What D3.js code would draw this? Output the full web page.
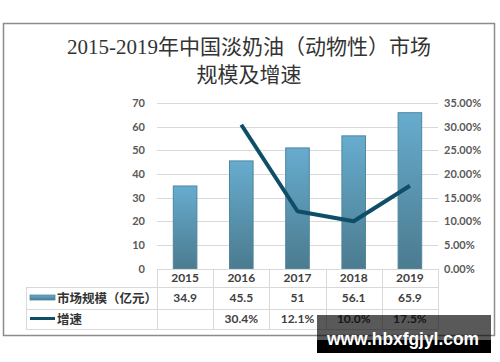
<!DOCTYPE html>
<html><head><meta charset="utf-8">
<script src="https://cdn.jsdelivr.net/npm/d3@7"></script>
<style>body{margin:0;background:#fff;} svg{display:block;}</style>
</head><body>
<svg id="c" width="500" height="362"></svg>
<script>
const years = ["2015","2016","2017","2018","2019"];
const marketSize = [34.9, 45.5, 51, 56.1, 65.9];
const growth = [null, 30.4, 12.1, 10.0, 17.5];
const sizeLabels = ["34.9","45.5","51","56.1","65.9"];
const growthLabels = ["","30.4%","12.1%","10.0%","17.5%"];
const leftTicks = [0,10,20,30,40,50,60,70];
const rightTicks = [0,5,10,15,20,25,30,35];
const seriesNames = ["市场规模（亿元）","增速"];
const titleLines = ["2015-2019年中国淡奶油（动物性）市场","规模及增速"];

const svg = d3.select("#c");
const L = 157, R = 438, T = 103, B = 268.5;
const x = d3.scaleBand().domain(years).range([L, R]);
const y = d3.scaleLinear().domain([0,70]).range([B, T]);
const y2 = d3.scaleLinear().domain([0,35]).range([B, T]);

const defs = svg.append("defs");
const g = defs.append("linearGradient").attr("id","bg").attr("x1",0).attr("y1",0).attr("x2",0).attr("y2",1);
g.append("stop").attr("offset","0%").attr("stop-color","#67acce");
g.append("stop").attr("offset","100%").attr("stop-color","#4b7b8f");

// outer frame
svg.append("rect").attr("x",3.5).attr("y",23.5).attr("width",491).attr("height",312)
  .attr("fill","#fff").attr("stroke","#8c8c8c").attr("stroke-width",1.5);

// title
svg.append("g").selectAll("text").data(titleLines).join("text")
  .attr("x",249).attr("y",(d,i)=>54+i*28).attr("text-anchor","middle")
  .attr("font-family","'Liberation Serif','Noto Sans CJK SC',serif")
  .attr("font-size",21).attr("fill","#333").text(d=>d);

// gridlines
svg.append("g").selectAll("line").data(leftTicks.filter(d=>d>0)).join("line")
  .attr("x1",L).attr("x2",R).attr("y1",d=>Math.round(y(d))+0.5).attr("y2",d=>Math.round(y(d))+0.5)
  .attr("stroke","#d9d9d9").attr("stroke-width",1);

const fnt = "Lato,'Noto Sans CJK SC',sans-serif";
// left axis
svg.append("g").selectAll("text").data(leftTicks).join("text")
  .attr("x",145).attr("y",d=>y(d)+4).attr("text-anchor","end")
  .attr("font-family",fnt).attr("font-size",11).attr("font-weight","bold").attr("fill","#595959").text(d=>d);
// right axis
svg.append("g").selectAll("text").data(rightTicks).join("text")
  .attr("x",444).attr("y",d=>y2(d)+4).attr("text-anchor","start")
  .attr("font-family",fnt).attr("font-size",11).attr("font-weight","bold").attr("fill","#595959").text(d=>d.toFixed(2)+"%");

// bars
const bw = x.bandwidth()*0.42;
svg.append("g").selectAll("rect").data(marketSize).join("rect")
  .attr("x",(d,i)=>x(years[i])+x.bandwidth()/2-bw/2).attr("width",bw)
  .attr("y",d=>y(d)).attr("height",d=>B-y(d))
  .attr("fill","url(#bg)").attr("stroke","#4f86a0").attr("stroke-width",1);

// line
const pts = growth.map((v,i)=>({v,i})).filter(d=>d.v!=null);
svg.append("path").datum(pts)
  .attr("d",d3.line().x(d=>x(years[d.i])+x.bandwidth()/2).y(d=>y2(d.v)))
  .attr("fill","none").attr("stroke","#0e4e66").attr("stroke-width",4).attr("stroke-linejoin","round");

// table
const rows = [269, 287, 309, 329];
const tg = svg.append("g").attr("stroke","#d9d9d9").attr("stroke-width",1);
tg.append("line").attr("x1",L).attr("x2",R).attr("y1",rows[0]+0.5).attr("y2",rows[0]+0.5);
[1,2,3].forEach(k=>tg.append("line").attr("x1",26).attr("x2",R).attr("y1",rows[k]+0.5).attr("y2",rows[k]+0.5));
tg.append("line").attr("x1",26.5).attr("x2",26.5).attr("y1",rows[1]).attr("y2",rows[3]);
const cols = years.map(yr=>x(yr)).concat([R]);
tg.selectAll("line.v").data(cols).join("line").attr("class","v")
  .attr("x1",d=>Math.round(d)+0.5).attr("x2",d=>Math.round(d)+0.5).attr("y1",rows[0]).attr("y2",rows[3]);

const cellText = (arr, yy) => svg.append("g").selectAll("text").data(arr).join("text")
  .attr("x",(d,i)=>x(years[i])+x.bandwidth()/2).attr("y",yy).attr("text-anchor","middle")
  .attr("font-family",fnt).attr("font-size",12).attr("font-weight","bold").attr("fill","#404040").text(d=>d);
cellText(years, 282);
cellText(sizeLabels, 302);
cellText(growthLabels, 323);

// legend cells
svg.append("rect").attr("x",30).attr("y",295).attr("width",25).attr("height",5).attr("fill","url(#bg)").attr("stroke","#4f86a0").attr("stroke-width",0.8);
svg.append("line").attr("x1",30).attr("x2",55).attr("y1",318.5).attr("y2",318.5).attr("stroke","#0e4e66").attr("stroke-width",3);
svg.append("g").selectAll("text").data(seriesNames).join("text")
  .attr("x",57).attr("y",(d,i)=>302.5+i*21.5)
  .attr("font-family","'Noto Sans CJK SC',sans-serif").attr("font-size",12.5).attr("font-weight","bold").attr("fill","#333").text(d=>d);

// watermark
svg.append("rect").attr("x",317).attr("y",315).attr("width",174).attr("height",25).attr("fill","#000").attr("opacity",0.65);
svg.append("rect").attr("x",317).attr("y",340).attr("width",174).attr("height",13).attr("fill","#000");
svg.append("text").attr("x",327).attr("y",345).attr("textLength",152).attr("lengthAdjust","spacingAndGlyphs")
  .attr("font-family","'Liberation Sans',Arial,sans-serif").attr("font-size",18).attr("font-weight","bold").attr("fill","#fff").text("www.hbxfgjyl.com");
</script>
</body></html>
